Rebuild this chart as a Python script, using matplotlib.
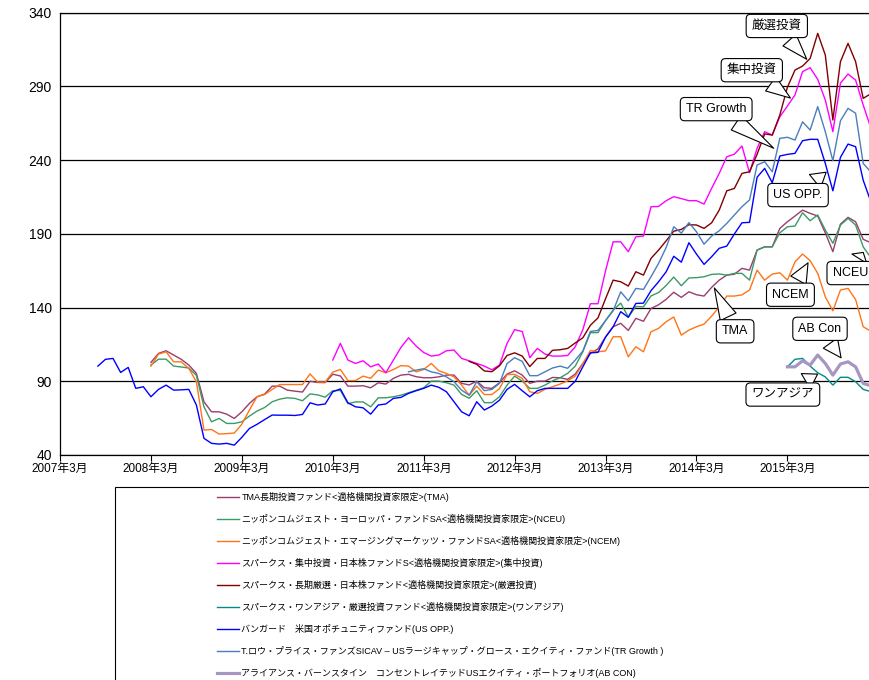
import pandas as pd
import matplotlib.pyplot as plt
from matplotlib.patches import Rectangle

plt.rcParams['font.family'] = ['Liberation Sans', 'Noto Sans CJK JP']

# month axis: 0 = 2007年3月
origin = pd.Period('2007-03', freq='M')
tick_labels = ['2007年3月', '2008年3月', '2009年3月', '2010年3月', '2011年3月',
               '2012年3月', '2013年3月', '2014年3月', '2015年3月']

# series values, one value per month from the start month
tma_start = '2008-03'
tma = [102.8, 108.9, 110.7, 107.8, 104.9, 101, 95.4, 76.1, 69.3, 69.3, 67.7, 64.8,
       69.3, 75, 79.5, 81.3, 86.7, 86.7, 84, 83.3, 82.7, 90, 89.2, 89.1,
       94.8, 93.6, 86.7, 86.7, 87, 85.6, 89, 88.1, 92, 94.2, 94.7, 93.1,
       92.4, 92.4, 93, 94.2, 94.2, 88.6, 87.5, 90.1, 85.6, 85.2, 89, 94.9,
       97.1, 94.2, 88.6, 90.1, 90.1, 92.6, 92.4, 91.3, 94.9, 102.1, 108.9, 112,
       120, 127, 129.3, 124.5, 132.7, 130.7, 139.4, 141.9, 145.6, 150.4, 146.9, 150.7,
       148.7, 147.8, 153.7, 158.6, 162, 162.6, 166.6, 165.4, 179, 181.2, 181.2, 193.7,
       198.2, 202.1, 206.1, 203.9, 202.1, 190.7, 177.9, 196.6, 201.2, 198.2, 186.3, 184]

nceu_start = '2008-03'
nceu = [101, 105, 105, 100.3, 99.7, 99, 94, 72.7, 62.5, 64.8, 61.4, 61.4,
        62.5, 66.4, 69.8, 72.2, 76.1, 77.9, 78.8, 78.4, 76.8, 81.4, 80.8, 79.2,
        83.6, 83.8, 74.8, 76, 76, 72.7, 78.8, 78.8, 79.5, 80.6, 82.2, 83.9,
        85.6, 90.1, 90.1, 89, 87.4, 81.1, 78.5, 83.6, 75.5, 75.5, 79.5, 87.4,
        93.5, 90.1, 85.2, 85.2, 87.4, 90.3, 92.4, 95.4, 100.3, 110, 123, 123,
        131.2, 138.3, 143, 133.6, 140.7, 140.5, 147.9, 150.2, 155, 160.7, 154.8, 160.1,
        160.3, 160.9, 162.5, 162.8, 162, 163.2, 163.2, 158.6, 179, 181.2, 181.2, 190.7,
        194.8, 195.3, 204.3, 198.9, 202.8, 192.6, 183.6, 196, 200.5, 196, 181.2, 174]

ncem_start = '2008-03'
ncem = [100.3, 108.4, 110, 103.2, 103.2, 98.7, 89.7, 56.9, 57.3, 54.2, 54.5, 54.9,
        60.9, 70.5, 79.5, 81, 84.5, 87.8, 87.8, 87.8, 87.8, 95, 89.5, 89.5,
        96.2, 98, 90.5, 90.5, 93.5, 92, 97.6, 95.8, 98, 100.6, 100.3, 96.4,
        98, 102.1, 97.1, 95.3, 93, 87.4, 80.5, 86.7, 81, 81, 85, 94.5,
        94.7, 92, 82.9, 81.8, 84.5, 86.3, 88.1, 90.3, 93.5, 101.9, 110.8, 110,
        110.6, 120.2, 120.2, 106.6, 113.4, 110, 123.6, 125.9, 130.4, 133.6, 121.3, 124.7,
        127, 128.8, 134.2, 140.5, 147.8, 147.8, 148.6, 151.9, 165.4, 158.6, 162.7, 163.6,
        158.6, 171, 176.3, 171.8, 163.2, 147.3, 137.8, 151.9, 153, 145.5, 127, 124]

shuchu_start = '2010-03'
shuchu = [104.4, 115.7, 104.4, 102.1, 103.9, 99.8, 101.7, 95.8, 104.4, 113, 119.5, 113.9,
          109.5, 107.1, 107.8, 110.7, 111.2, 105.5, 103.9, 102.1, 100.3, 97.8, 101, 115.7,
          125, 123.8, 106, 112.3, 108.5, 107.1, 107.1, 107.5, 113.4, 125, 142.6, 142.6,
          165, 184.6, 184.6, 177.9, 188, 188.5, 208.4, 208.6, 212.5, 215.2, 213.9, 212.5,
          212.5, 210.2, 220.9, 231, 242.3, 244, 249.6, 231.5, 248, 259.3, 257, 269.4,
          276.7, 284.2, 300, 302.7, 294.8, 280.8, 259.3, 292.2, 298.4, 294.3, 277.4, 262]

gensen_start = '2011-09'
gensen = [103.5, 101.5, 97, 96.5, 100.5, 107.5,
          109.3, 107.1, 100, 105.5, 105.5, 111, 111.4, 112.3, 116, 119.5, 128, 133,
          146, 158.6, 157.5, 154.6, 164.3, 162, 173.4, 179, 185.3, 191.8, 193, 196.2,
          196, 193.7, 197.5, 206.1, 219.2, 220.8, 231, 232.1, 244, 257.8, 257, 270.6,
          289.4, 301.1, 303.8, 309, 326, 311.3, 267.2, 306.8, 319.2, 306.8, 281.9, 285]

oneasia_start = '2015-03'
oneasia = [99.8, 104.9, 105.5, 100.3, 95.8, 93, 87.4, 92.7, 92.7, 89.7, 84.5, 83]

usopp_start = '2007-08'
usopp = [100.3, 104.9, 105.5, 96, 99.4, 85.2, 86.3,
         79.5, 84.5, 87.4, 84, 84.2, 84.5, 73.9, 51.3, 47.9, 47.4, 47.9, 46.7,
         52, 58, 60.8, 64, 67.1, 67, 67, 66.8, 67.5, 75.4, 73.9, 74.6,
         82.9, 84.8, 75.4, 72.7, 72, 67.7, 73.9, 74.6, 78.4, 79.1, 81.8, 83.6,
         85.2, 87.4, 85.9, 82.9, 76.1, 69.3, 66.6, 76.1, 70.5, 73.2, 77.2, 84.5,
         87.9, 83.6, 79.5, 83.6, 85.2, 85.2, 85.2, 85.2, 90, 99.8, 109.3, 109.6,
         120, 127, 137.2, 133.4, 142.8, 143, 151.5, 157.5, 164.3, 174.8, 170.8, 184,
         176.3, 169.3, 174.5, 180.2, 181.7, 189.9, 197.5, 197.8, 228.4, 234.4, 224.7, 242.8,
         243.9, 244.6, 253.2, 254.1, 254.1, 237.8, 219.2, 241.9, 250.9, 249.1, 226.4, 212]

trg_start = '2011-01'
trg = [96.4, 97.6,
       98.5, 96.4, 95.3, 93, 89.7, 84, 80.6, 89.7, 83.6, 84.5, 88.6, 102,
       106, 103.5, 93.8, 93.8, 96.4, 99, 100.3, 98.8, 104.4, 110.5, 123.8, 124.5,
       131.2, 137.8, 150.7, 144.6, 153, 152.3, 160.9, 170, 180.8, 194.8, 190.5, 197.6,
       191.4, 183, 188.5, 192.1, 197.1, 202.8, 208.4, 213, 236.7, 238.9, 232.1, 254.8,
       255.5, 253.6, 266, 260.4, 276.3, 259.3, 239.6, 266.7, 275.1, 271.8, 237.8, 232]

abcon_start = '2015-03'
abcon = [99.8, 99.8, 103.9, 101, 107.8, 102.1, 94.2, 101.7, 103.2, 99.8, 88.6, 87]

series = [
    ('TMA長期投資ファンド<適格機関投資家限定>(TMA)', tma_start, tma, '#9A3D6E', 1.0),
    ('ニッポンコムジェスト・ヨーロッパ・ファンドSA<適格機関投資家限定>(NCEU)', nceu_start, nceu, '#3C9A66', 1.0),
    ('ニッポンコムジェスト・エマージングマーケッツ・ファンドSA<適格機関投資家限定>(NCEM)', ncem_start, ncem, '#FF7417', 1.0),
    ('スパークス・集中投資・日本株ファンドS<適格機関投資家限定>(集中投資)', shuchu_start, shuchu, '#FF00FF', 1.0),
    ('スパークス・長期厳選・日本株ファンド<適格機関投資家限定>(厳選投資)', gensen_start, gensen, '#800000', 1.0),
    ('スパークス・ワンアジア・厳選投資ファンド<適格機関投資家限定>(ワンアジア)', oneasia_start, oneasia, '#008B8B', 1.0),
    ('バンガード　米国オポチュニティファンド(US OPP.)', usopp_start, usopp, '#0000FF', 1.0),
    ('T.ロウ・プライス・ファンズSICAV – USラージキャップ・グロース・エクイティ・ファンド(TR Growth )', trg_start, trg, '#4A7EBB', 1.0),
    ('アライアンス・バーンスタイン　コンセントレイテッドUSエクイティ・ポートフォリオ(AB CON)', abcon_start, abcon, '#A596C2', 2.3),
]

# callouts: text, point (month, value), box centre (month, value)
callouts = [
    ('厳選投資', (98.8, 307), (94.6, 331)),
    ('集中投資', (96.7, 281), (91.3, 301)),
    ('TR Growth', (94.5, 247), (86.6, 274.6)),
    ('US OPP.', (101.4, 233), (97.4, 216.3)),
    ('NCEU', (106.2, 179), (104.3, 163.4)),
    ('NCEM', (98.9, 172), (96.4, 148.7)),
    ('TMA', (86.2, 155), (89.1, 123.9)),
    ('AB Con', (103.3, 104.4), (100.3, 125.6)),
    ('ワンアジア', (100.3, 95.8), (95.4, 81)),
]

fig = plt.figure(figsize=(8.7, 6.8), dpi=100)
ax = fig.add_axes([60 / 870, 1 - 455 / 680, 810 / 870, (455 - 12.7) / 680])

handles = []
for label, start, vals, color, lw in series:
    s = (pd.Period(start, freq='M') - origin).n
    x = list(range(s, s + len(vals)))
    line, = ax.plot(x, vals, color=color, lw=lw, label=label)
    handles.append(line)

for text, pt, box in callouts:
    ax.annotate(text, xy=pt, xytext=box, ha='center', va='center', fontsize=9,
                annotation_clip=False,
                bbox=dict(boxstyle='round,pad=0.45,rounding_size=0.35', fc='white', ec='black', lw=0.8),
                arrowprops=dict(arrowstyle='wedge,tail_width=1.4,shrink_factor=0.5',
                                fc='white', ec='black', lw=0.8))

ax.set_xlim(0, 106.9)
ax.set_ylim(40, 340)
ax.set_yticks(range(40, 341, 50))
ax.set_xticks(range(0, 97, 12))
ax.set_xticklabels(tick_labels, fontsize=8.5)
ax.tick_params(axis='y', length=0, labelsize=10, pad=6)
ax.tick_params(axis='x', length=4, width=0.8, pad=2, direction='out')
ax.grid(axis='y', color='black', lw=0.9)
ax.set_axisbelow(True)
ax.spines['right'].set_visible(False)
for sp in ['left', 'bottom', 'top']:
    ax.spines[sp].set_linewidth(0.9)

# legend box (runs off the bottom and right edges like the original)
fig.add_artist(Rectangle((115 / 870, -0.05), 1.0, (680 - 487) / 680 + 0.05,
                         transform=fig.transFigure, fill=False, ec='black', lw=0.8))
ax.legend(handles=handles, loc='upper left', bbox_to_anchor=(217 / 870, 1 - 492 / 680),
          bbox_transform=fig.transFigure, frameon=False, fontsize=6.5,
          handlelength=2.4, handletextpad=0.3, labelspacing=1.33,
          borderaxespad=0, borderpad=0)

fig.savefig('out.png', dpi=100)
